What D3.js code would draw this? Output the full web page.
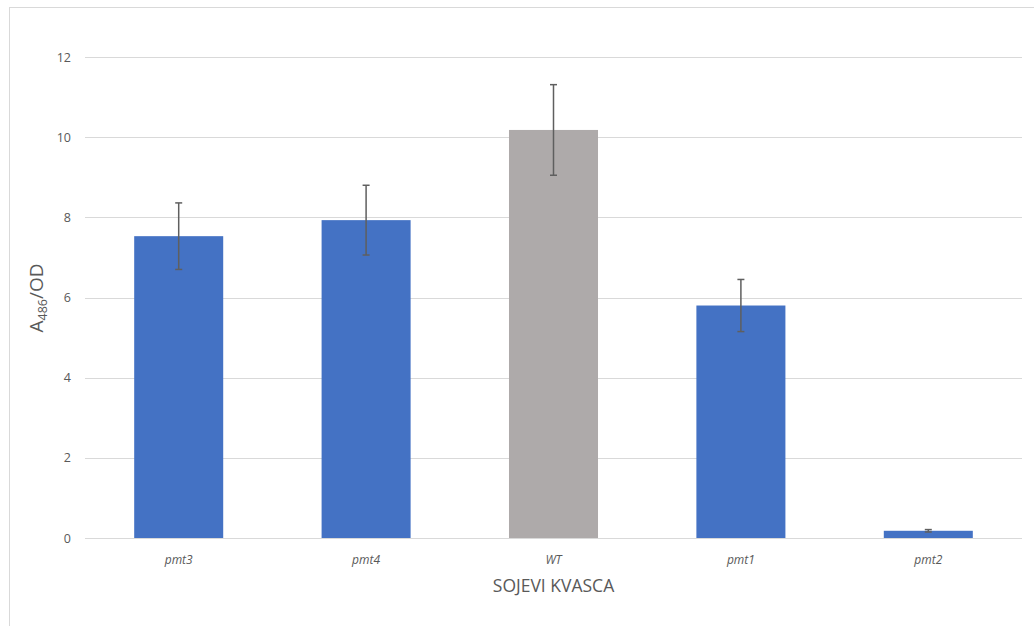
<!DOCTYPE html>
<html><head><meta charset="utf-8">
<script src="https://cdn.jsdelivr.net/npm/d3@7"></script>
<style>body{margin:0;background:#fff}svg{display:block}</style>
</head><body>
<svg id="c" width="1034" height="626"></svg>
<script>
const categories = ["pmt3","pmt4","WT","pmt1","pmt2"];
const values = [7.53, 7.93, 10.18, 5.8, 0.18];
const errors = [0.83, 0.87, 1.13, 0.65, 0.03];
const barColors = ["#4472C4","#4472C4","#AEAAAA","#4472C4","#4472C4"];
const yTicks = [0,2,4,6,8,10,12];
const xTitle = "SOJEVI KVASCA";

(function(){
const svg = d3.select("#c");
const font = "'Open Sans', sans-serif";
svg.append("rect").attr("x",9.5).attr("y",7.5).attr("width",1030).attr("height",630)
  .attr("fill","#fff").attr("stroke","#d9d9d9").attr("stroke-width",1);

const pL=85, pR=1022, pT=57, pB=538;
const x = d3.scaleBand().domain(categories).range([pL,pR]).padding(0);
const y = d3.scaleLinear().domain([0,12]).range([pB,pT]);

const g = svg.append("g");
g.selectAll("line.grid").data(yTicks).join("line")
  .attr("x1",pL).attr("x2",pR)
  .attr("y1",d=>Math.round(y(d))+0.5).attr("y2",d=>Math.round(y(d))+0.5)
  .attr("stroke","#d9d9d9").attr("stroke-width",1);

g.selectAll("text.yt").data(yTicks).join("text")
  .attr("x",71).attr("y",d=>y(d)+4.5)
  .attr("text-anchor","end").attr("font-family",font).attr("font-size",12.5)
  .attr("fill","#595959").text(d=>d);

const bw = x.bandwidth()*0.475;
g.selectAll("rect.bar").data(categories).join("rect")
  .attr("x",(d)=>x(d)+x.bandwidth()/2-bw/2)
  .attr("width",bw)
  .attr("y",(d,i)=>y(values[i]))
  .attr("height",(d,i)=>y(0)-y(values[i]))
  .attr("fill",(d,i)=>barColors[i]);

const eb = g.selectAll("g.eb").data(categories).join("g");
eb.append("line")
  .attr("x1",d=>x(d)+x.bandwidth()/2).attr("x2",d=>x(d)+x.bandwidth()/2)
  .attr("y1",(d,i)=>y(values[i]+errors[i])).attr("y2",(d,i)=>y(values[i]-errors[i]))
  .attr("stroke","#5f5f5f").attr("stroke-width",1.5);
[1,-1].forEach(s=>{
  eb.append("line")
    .attr("x1",d=>x(d)+x.bandwidth()/2-3.5).attr("x2",d=>x(d)+x.bandwidth()/2+3.5)
    .attr("y1",(d,i)=>y(values[i]+s*errors[i])).attr("y2",(d,i)=>y(values[i]+s*errors[i]))
    .attr("stroke","#5f5f5f").attr("stroke-width",1.5);
});

g.selectAll("text.xt").data(categories).join("text")
  .attr("x",d=>x(d)+x.bandwidth()/2).attr("y",564)
  .attr("text-anchor","middle").attr("font-family",font).attr("font-size",12)
  .attr("font-style","italic").attr("fill","#595959").text(d=>d);

svg.append("text").attr("x",(pL+pR)/2).attr("y",592)
  .attr("text-anchor","middle").attr("font-family",font).attr("font-size",17.5)
  .attr("fill","#595959").text(xTitle);

const yt = svg.append("text").attr("transform","translate(43,298) rotate(-90)")
  .attr("text-anchor","middle").attr("font-family",font).attr("font-size",19)
  .attr("fill","#595959");
yt.append("tspan").text("A");
yt.append("tspan").attr("font-size",12.5).attr("dy",4).text("486");
yt.append("tspan").attr("dy",-4).text("/OD");
})();
</script>
</body></html>
